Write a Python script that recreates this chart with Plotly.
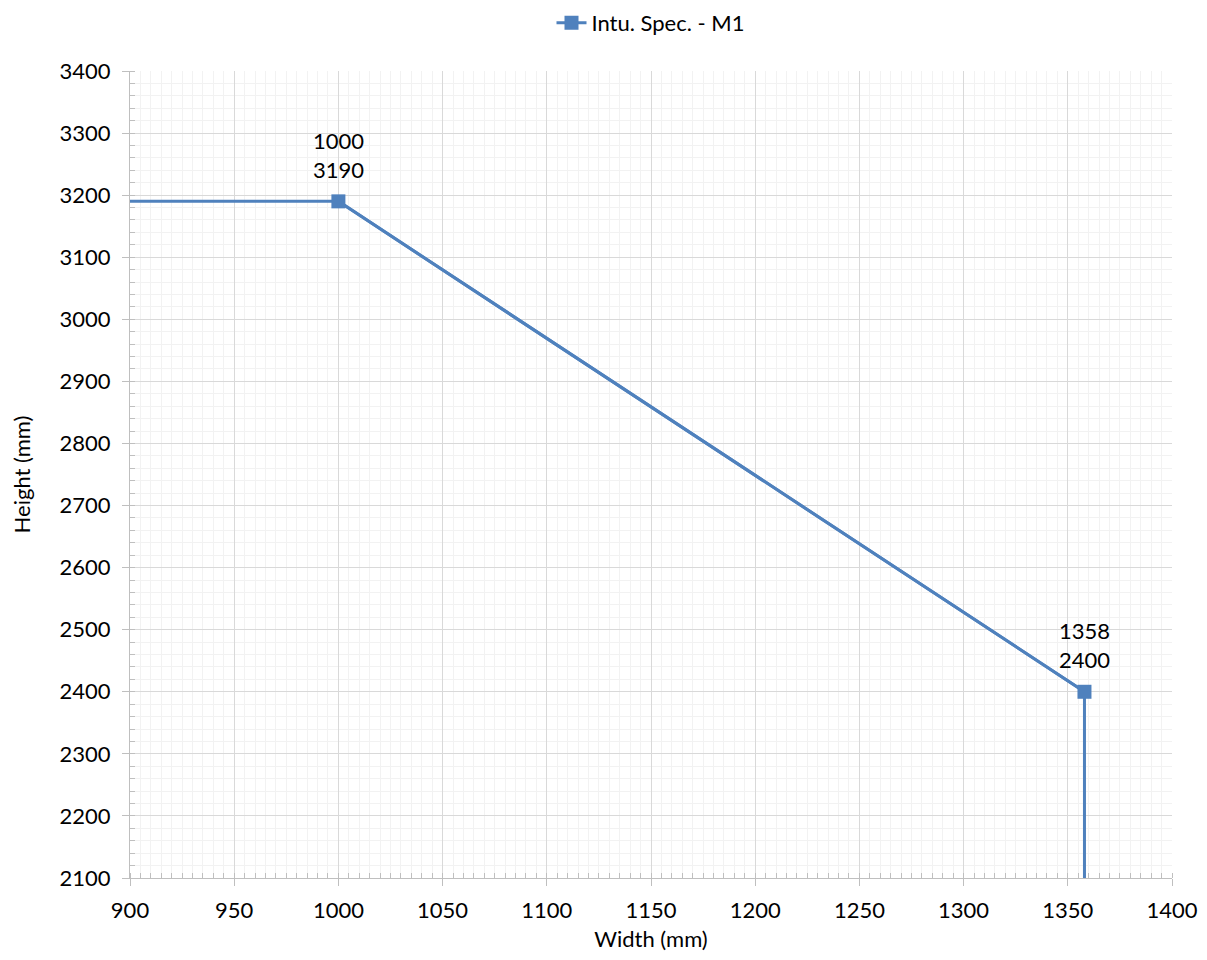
import plotly.graph_objects as go

# Data
width_mm = [900, 1000, 1358, 1358]
height_mm = [3190, 3190, 2400, 2100]
marker_x = [1000, 1358]
marker_y = [3190, 2400]
series_name = "Intu. Spec. - M1"
x_title = "Width (mm)"
y_title = "Height (mm)"

LINE_COLOR = "#4f81bd"
FONT = "Lato"
FS = 22

fig = go.Figure()
fig.add_trace(go.Scatter(
    x=width_mm, y=height_mm, mode="lines",
    line=dict(color=LINE_COLOR, width=3),
    showlegend=False, hoverinfo="skip"))
fig.add_trace(go.Scatter(
    x=marker_x, y=marker_y, mode="lines+markers",
    name=series_name,
    line=dict(color=LINE_COLOR, width=3),
    marker=dict(symbol="square", size=14, color=LINE_COLOR)))

for mx, my in zip(marker_x, marker_y):
    fig.add_annotation(x=mx, y=my, xref="x", yref="y", text=str(mx),
                       showarrow=False, yshift=61, font=dict(size=FS, color="#000"))
    fig.add_annotation(x=mx, y=my, xref="x", yref="y", text=str(my),
                       showarrow=False, yshift=32, font=dict(size=FS, color="#000"))

axis_common = dict(
    showline=True, linecolor="#bfbfbf", linewidth=1,
    gridcolor="#d9d9d9", gridwidth=1,
    ticks="outside", ticklen=7, tickcolor="#bfbfbf",
    tickfont=dict(size=FS, color="#000", family=FONT),
    zeroline=False, mirror=False, automargin=False,
)

fig.update_xaxes(
    range=[900, 1400], dtick=50, tick0=900, ticklabelstandoff=6,
    title=dict(text=x_title, font=dict(size=FS, color="#000", family=FONT), standoff=14),
    minor=dict(dtick=5, showgrid=True, gridcolor="#f2f2f2", ticks="inside",
               ticklen=5, tickcolor="#bfbfbf"),
    **axis_common)
fig.update_yaxes(
    range=[2100, 3400], dtick=100, tick0=2100, ticklabelstandoff=7,
    title=dict(text=y_title, font=dict(size=FS, color="#000", family=FONT), standoff=25),
    minor=dict(dtick=20, showgrid=True, gridcolor="#f2f2f2", ticks="inside",
               ticklen=5, tickcolor="#bfbfbf"),
    **axis_common)

fig.update_layout(
    width=1191, height=944,
    margin=dict(l=122, r=27, t=63, b=74),
    plot_bgcolor="white", paper_bgcolor="white",
    font=dict(family=FONT, size=FS, color="#000"),
    legend=dict(orientation="h", x=0.5, xanchor="center", y=1 - 15 / 944, yanchor="middle",
                yref="container", font=dict(size=FS)),
    showlegend=True,
)

fig.write_html("out.html")
